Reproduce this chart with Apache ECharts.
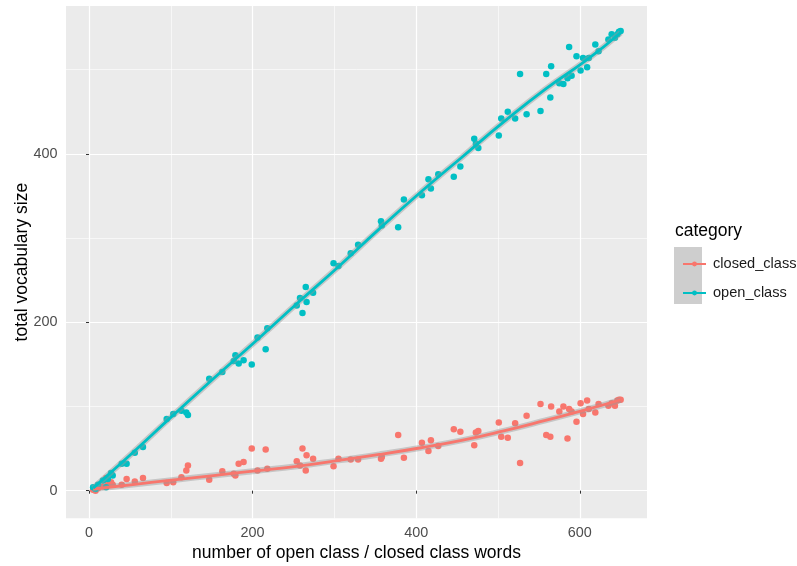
<!DOCTYPE html>
<html>
<head>
<meta charset="utf-8">
<script src="https://cdn.jsdelivr.net/npm/echarts@6/dist/echarts.min.js"></script>
<style>
html,body{margin:0;padding:0;background:#fff;}
#chart{width:797px;height:566px;}
</style>
</head>
<body>
<div id="chart"></div>
<script>
// number of open class / closed class words (shared x for both categories)
const xWords = [5,8,11,17,21,23,27,29,40,46,56,66,95,103,113,119,121,147,163,177,179,183,189,199,206,216,218,254,258,261,265,266,274,299,305,320,329,357,358,378,385,407,415,418,427,446,454,471,473,476,501,504,512,521,527,535,552,559,564,565,575,580,585,587,590,596,601,604,609,611,619,623,635,639,643,646,648,650];
const openVocab = [4,2,7,12,4,14,21,18,32,32,45,52,85,91,95,93,90,133,141,154,161,151,155,150,182,168,193,220,229,211,242,224,235,270,267,282,292,320,315,313,346,351,370,359,376,373,385,418,412,407,422,442,450,442,495,447,451,495,467,504,484,483,490,527,493,516,499,514,503,514,530,522,536,542,538,542,545,546];
const closedVocab = [1,0,3,5,15,8,10,7,7,14,11,15,9,10,16,24,30,13,23,20,18,32,34,50,24,49,26,35,30,50,24,42,38,29,38,37,37,38,40,66,39,57,47,60,53,73,70,54,69,71,81,64,63,80,33,89,103,66,64,100,94,100,62,97,94,82,104,91,107,97,93,103,101,104,101,107,108,108];

// smoothed trend
const xSmooth = [5,51,101,152,203,254,305,355,406,457,507,558,609,650];
const closedSmooth = [2,7,12.5,18,23.5,29,36,43,51,60,71,83.5,96.5,108];
const openSmooth = [3,43,88,133,177,222,266,311,355,397,438,477,512,544];

// tick labels
const xTicks = [0,200,400,600];
const yTicks = [0,200,400];

const categories = ['closed_class','open_class'];
const xTitle = 'number of open class / closed class words';
const yTitle = 'total vocabulary size';
const legendTitle = 'category';

const FONT = '"Liberation Sans", Arial, sans-serif';
const RED = '#F8766D', CYAN = '#00BFC4';

const pairs = (xs, ys) => xs.map((x, i) => [x, ys[i]]);
const X_MIN = -28.1, X_MAX = 682.2, Y_MIN = -32.8, Y_MAX = 575.7;

const chart = echarts.init(document.getElementById('chart'), null, {renderer: 'canvas'});
chart.setOption({
  animation: false,
  backgroundColor: '#ffffff',
  textStyle: {fontFamily: FONT},
  grid: {left: 66, top: 6, width: 581, height: 512.3, show: true, backgroundColor: '#EBEBEB', borderWidth: 0,
         containLabel: false, outerBoundsMode: 'none'},
  xAxis: [
    {type: 'value', min: X_MIN, max: X_MAX, splitNumber: 7, position: 'bottom',
     axisLine: {show: false}, axisTick: {show: false}, axisLabel: {show: false},
     splitLine: {show: true, showMinLine: false, showMaxLine: false, lineStyle: {color: '#ffffff', width: 0.6}}},
    {type: 'value', min: X_MIN, max: X_MAX, position: 'bottom',
     axisLine: {show: false},
     axisTick: {show: true, length: 3, customValues: xTicks, lineStyle: {color: '#333333', width: 1}},
     axisLabel: {show: true, customValues: xTicks, color: '#4D4D4D', fontSize: 14.4, fontFamily: FONT, margin: 8},
     splitLine: {show: true, lineStyle: {color: '#ffffff', width: 1.2}},
     name: xTitle, nameLocation: 'middle', nameGap: 26, nameMoveOverlap: false,
     nameTextStyle: {color: '#000000', fontSize: 17.5, fontFamily: FONT}}
  ],
  yAxis: [
    {type: 'value', min: Y_MIN, max: Y_MAX, splitNumber: 6, position: 'left',
     axisLine: {show: false}, axisTick: {show: false}, axisLabel: {show: false},
     splitLine: {show: true, showMinLine: false, showMaxLine: false, lineStyle: {color: '#ffffff', width: 0.6}}},
    {type: 'value', min: Y_MIN, max: Y_MAX, position: 'left',
     axisLine: {show: false},
     axisTick: {show: true, length: 3, customValues: yTicks, lineStyle: {color: '#333333', width: 1}},
     axisLabel: {show: true, customValues: yTicks, color: '#4D4D4D', fontSize: 14.4, fontFamily: FONT, margin: 8.5},
     splitLine: {show: true, lineStyle: {color: '#ffffff', width: 1.2}},
     name: yTitle, nameLocation: 'middle', nameGap: 35, nameRotate: 90, nameMoveOverlap: false,
     nameTextStyle: {color: '#000000', fontSize: 17.5, fontFamily: FONT}}
  ],
  legend: {
    data: categories, orient: 'vertical', left: 677, top: 251,
    itemWidth: 23, itemHeight: 6, itemGap: 13,
    textStyle: {fontSize: 14.6, color: '#1A1A1A', fontFamily: FONT, lineHeight: 16, padding: [0,0,0,2]},
    selectedMode: false
  },
  graphic: [
    {type: 'rect', left: 674, top: 247, shape: {width: 28, height: 57}, style: {fill: '#CECECE'}, z: 0},
    {type: 'text', left: 675, top: 222, style: {text: legendTitle, font: '17.5px ' + FONT, fill: '#000000'}}
  ],
  series: [
    {name: 'closed_class points', type: 'scatter', xAxisIndex: 0, yAxisIndex: 0, data: pairs(xWords, closedVocab),
     symbol: 'circle', symbolSize: 6.5, itemStyle: {color: RED, opacity: 1}, z: 2},
    {name: 'open_class points', type: 'scatter', xAxisIndex: 0, yAxisIndex: 0, data: pairs(xWords, openVocab),
     symbol: 'circle', symbolSize: 6.5, itemStyle: {color: CYAN, opacity: 1}, z: 2},
    {name: 'closed_class band', type: 'line', xAxisIndex: 0, yAxisIndex: 0, data: pairs(xSmooth, closedSmooth), smooth: true,
     showSymbol: false, symbol: 'none', lineStyle: {color: 'rgba(153,153,153,0.45)', width: 6}, z: 3, silent: true},
    {name: 'open_class band', type: 'line', xAxisIndex: 0, yAxisIndex: 0, data: pairs(xSmooth, openSmooth), smooth: true,
     showSymbol: false, symbol: 'none', lineStyle: {color: 'rgba(153,153,153,0.45)', width: 6}, z: 3, silent: true},
    {name: 'closed_class', type: 'line', xAxisIndex: 0, yAxisIndex: 0, data: pairs(xSmooth, closedSmooth), smooth: true,
     showSymbol: false, symbol: 'circle', symbolSize: 5, color: RED, itemStyle: {color: RED},
     lineStyle: {color: RED, width: 2.8}, z: 4},
    {name: 'open_class', type: 'line', xAxisIndex: 0, yAxisIndex: 0, data: pairs(xSmooth, openSmooth), smooth: true,
     showSymbol: false, symbol: 'circle', symbolSize: 5, color: CYAN, itemStyle: {color: CYAN},
     lineStyle: {color: CYAN, width: 2.8}, z: 4}
  ]
});
</script>
</body>
</html>
